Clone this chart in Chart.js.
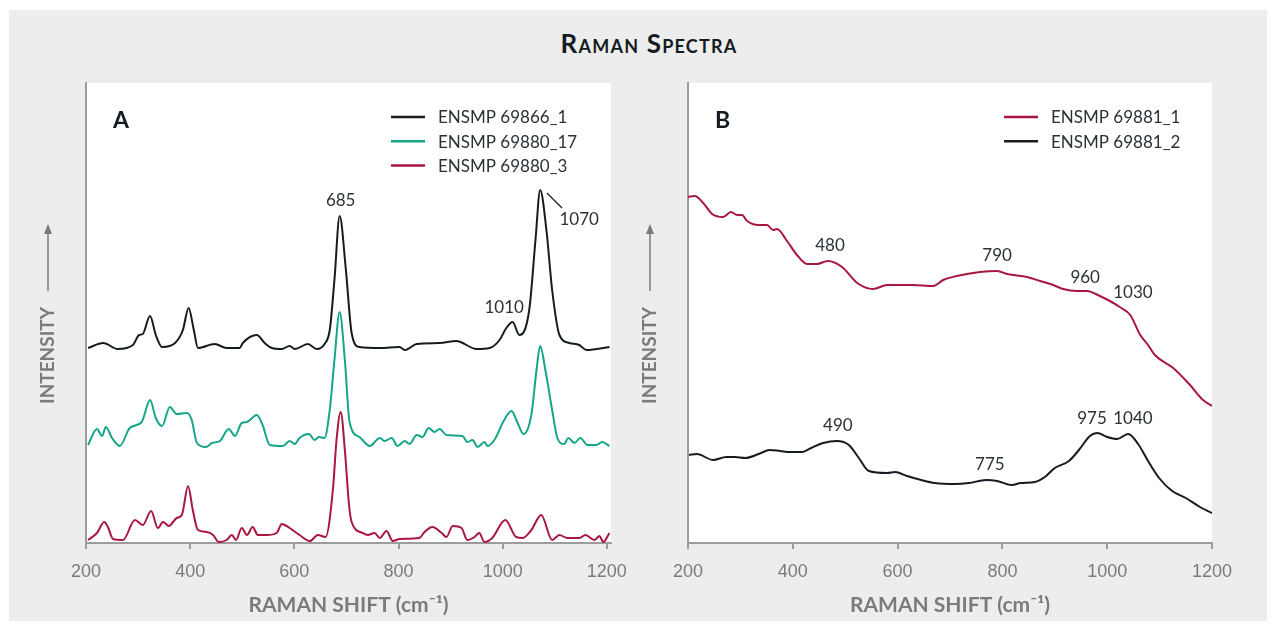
<!DOCTYPE html>
<html>
<head>
<meta charset="utf-8">
<script src="https://cdn.jsdelivr.net/npm/chart.js@4.4.1/dist/chart.umd.min.js"></script>
<style>
  body { margin: 0; background: #fff; width: 1276px; height: 631px; position: relative; overflow: hidden; }
  #panel { position: absolute; left: 9px; top: 10px; width: 1258px; height: 611px; background: #ededed; }
  #title { position: absolute; left: 0; width: 1298px; top: 27px; text-align: center;
           font-family: Lato, sans-serif; font-weight: bold; font-size: 26px; font-variant: small-caps;
           color: #141c21; letter-spacing: 1.2px; }
  canvas { position: absolute; top: 0; }
</style>
</head>
<body>
<div id="panel"></div>
<div id="title">Raman Spectra</div>
<canvas id="chartA" width="640" height="631" style="left:0"></canvas>
<canvas id="chartB" width="636" height="631" style="left:640px"></canvas>
<script>
//Panel A data (Raman shift, intensity in arbitrary units)
const shiftA1 = [204,233,261,290,302,309,323,334,346,371,386,397,407,415,447,470,495,501,528,543,557,576,591,601,626,643,658,668,677,687,699,710,725,764,802,812,835,879,911,950,975,994,1007,1019,1032,1051,1063,1072,1084,1095,1109,1128,1147,1161,1205];
const intA1   = [195,200,194,198,208,209,227,208,196,200,213,235,213,195,199,195,195,200,208,200,195,194,197,194,199,194,199,213,263,327,273,210,196,195,196,193,199,200,202,194,195,203,215,221,208,233,303,353,313,253,208,200,198,193,196];

const shiftA2 = [204,221,231,238,250,265,284,307,323,334,346,361,374,394,403,413,430,442,457,474,486,499,509,528,539,553,578,591,601,610,628,639,647,658,668,677,687,697,706,725,745,764,773,787,798,812,821,835,846,858,869,879,892,923,932,942,952,965,971,984,1003,1017,1028,1040,1055,1065,1072,1082,1095,1105,1118,1126,1138,1149,1163,1180,1191,1205];
const intA2   = [98,114,107,116,105,97,115,121,143,125,117,136,129,130,123,100,96,100,102,114,107,120,121,128,118,98,97,102,99,105,109,103,106,105,133,183,231,183,121,106,97,105,102,105,97,102,99,108,106,115,111,114,108,107,101,103,96,101,97,103,123,132,121,109,128,173,197,173,133,105,99,105,100,105,98,98,101,97];

const shiftA3 = [204,221,235,242,252,271,294,309,325,338,348,359,374,384,396,405,415,432,444,455,470,480,488,499,509,520,530,547,566,576,591,610,630,645,660,674,681,689,697,705,710,731,741,754,764,777,789,802,840,850,865,883,892,904,921,932,946,955,965,980,1005,1026,1038,1055,1074,1095,1109,1124,1147,1159,1176,1186,1193,1205];
const intA3   = [3,10,21,16,4,3,23,18,32,15,21,17,25,28,57,33,13,11,8,1,3,8,3,15,8,16,8,8,10,19,15,8,2,8,6,53,103,131,93,38,21,10,8,10,5,12,2,4,5,11,16,10,6,17,15,3,6,10,1,5,23,6,5,13,28,3,8,5,5,8,3,7,1,10];

//Panel B data
const shiftB1 = [200,213,229,246,267,282,294,303,313,334,351,362,370,389,408,427,446,467,494,523,553,580,605,629,668,687,713,757,790,809,847,872,897,916,942,961,986,1005,1024,1044,1063,1078,1091,1126,1158,1183,1200];
const intB1   = [346,347,340,329,326,331,328,328,322,318,318,313,314,302,288,279,279,282,276,260,254,258,258,258,257,263,267,271,272,269,266,262,258,254,252,252,247,242,236,228,208,198,188,175,158,143,137];

const shiftB2 = [202,217,248,273,290,309,335,356,376,395,418,435,458,484,507,526,545,580,595,618,645,671,710,736,769,790,818,835,862,881,900,927,946,967,981,1000,1019,1040,1059,1078,1099,1124,1150,1177,1200];
const intB2   = [88,89,83,86,86,85,89,93,92,91,91,95,100,102,98,85,72,70,71,67,63,60,59,60,63,62,58,60,61,66,75,82,93,107,110,106,104,109,99,82,65,52,45,36,30];

//Legends
const seriesA = ['ENSMP 69866_1', 'ENSMP 69880_17', 'ENSMP 69880_3'];
const seriesB = ['ENSMP 69881_1', 'ENSMP 69881_2'];

//Peak labels: text, shift, intensity where the text sits
const peakTextA  = ['685', '1010', '1070'];
const peakShiftA = [689, 1003, 1147];
const peakIntA   = [342, 235, 323];

const peakTextB  = ['480', '790', '960', '1030', '490', '775', '975', '1040'];
const peakShiftB = [471, 790, 958, 1049, 486, 776, 971, 1049];
const peakIntB   = [297, 287, 265, 250, 117, 78, 124, 124];

const xTicks = [200, 400, 600, 800, 1000, 1200];

const BLACK = '#141c21';
const GREEN = '#16a589';
const RED = '#a8173f';
const GREY = '#9c9c9c';

function pts(xs, ys) {
  return xs.map(function (x, i) { return { x: x, y: ys[i] }; });
}

function line(label, xs, ys, colour) {
  return {
    label: label,
    data: pts(xs, ys),
    borderColor: colour,
    borderWidth: 2,
    pointRadius: 0,
    fill: false,
    cubicInterpolationMode: 'monotone'
  };
}

//draws the white plot area, legend, letter, peak labels and the intensity title
function decorPlugin(letter, texts, shifts, ints, legendX, leader) {
  return {
    id: 'decor' + letter,
    beforeDraw: function (chart) {
      const a = chart.chartArea, ctx = chart.ctx;
      ctx.save();
      ctx.fillStyle = '#fff';
      ctx.fillRect(a.left, a.top, a.right - a.left, a.bottom - a.top);
      ctx.restore();
    },
    afterDatasetsDraw: function (chart) {
      const a = chart.chartArea, ctx = chart.ctx;
      const xs = chart.scales.x, ys = chart.scales.y;
      ctx.save();
      // panel letter
      ctx.fillStyle = BLACK;
      ctx.font = 'bold 23px Lato';
      ctx.textBaseline = 'middle';
      ctx.textAlign = 'left';
      ctx.fillText(letter, a.left + 27, 121);

      // legend
      ctx.font = '17px Lato';
      chart.data.datasets.forEach(function (ds, i) {
        const y = 117 + i * 24.3;
        ctx.strokeStyle = ds.borderColor;
        ctx.lineWidth = 2.5;
        ctx.beginPath();
        ctx.moveTo(legendX, y);
        ctx.lineTo(legendX + 34, y);
        ctx.stroke();
        ctx.fillStyle = '#2b3236';
        ctx.fillText(ds.label, legendX + 47, y + 1);
      });

      // peak labels
      ctx.textAlign = 'center';
      ctx.fillStyle = '#2b3236';
      ctx.font = '17px Lato';
      texts.forEach(function (t, i) {
        ctx.fillText(t, xs.getPixelForValue(shifts[i]), ys.getPixelForValue(ints[i]));
      });
      if (leader) {
        ctx.strokeStyle = BLACK;
        ctx.lineWidth = 1.2;
        ctx.beginPath();
        ctx.moveTo(xs.getPixelForValue(leader[0]), ys.getPixelForValue(leader[1]));
        ctx.lineTo(xs.getPixelForValue(leader[2]), ys.getPixelForValue(leader[3]));
        ctx.stroke();
      }

      // intensity title with arrow
      const tx = a.left - 38;
      ctx.translate(tx, 0);
      ctx.rotate(-Math.PI / 2);
      ctx.fillStyle = '#7b7b7b';
      ctx.font = 'bold 19px Lato';
      ctx.textAlign = 'left';
      ctx.fillText('INTENSITY', -404, 0);
      ctx.restore();

      ctx.save();
      ctx.strokeStyle = '#7b7b7b';
      ctx.fillStyle = '#7b7b7b';
      ctx.lineWidth = 1.5;
      ctx.beginPath();
      ctx.moveTo(tx, 291);
      ctx.lineTo(tx, 232);
      ctx.stroke();
      ctx.beginPath();
      ctx.moveTo(tx, 224);
      ctx.lineTo(tx - 4, 234);
      ctx.lineTo(tx + 4, 234);
      ctx.closePath();
      ctx.fill();
      ctx.restore();
    }
  };
}

function makeOptions(xMax, padLeft, padRight) {
  return {
    responsive: false,
    animation: false,
    devicePixelRatio: 1,
    layout: { padding: { left: padLeft, top: 83, right: padRight, bottom: 0 } },
    plugins: { legend: { display: false }, tooltip: { enabled: false } },
    scales: {
      x: {
        type: 'linear',
        min: 200,
        max: xMax,
        afterBuildTicks: function (scale) {
          scale.ticks = xTicks.map(function (v) { return { value: v }; });
        },
        afterFit: function (scale) { scale.height = 88; },
        ticks: {
          color: '#7b7b7b',
          font: { family: 'Liberation Sans', size: 18 },
          padding: 12,
          maxRotation: 0,
          callback: function (v) { return String(v); }
        },
        grid: { drawOnChartArea: false, drawTicks: true, tickLength: 6, color: GREY, lineWidth: 2 },
        border: { color: GREY, width: 2 },
        title: {
          display: true,
          text: 'RAMAN SHIFT (cm⁻¹)',
          color: '#7b7b7b',
          font: { family: 'Lato', weight: 'bold', size: 21 },
          padding: { top: 0, bottom: 13 }
        }
      },
      y: {
        min: 0,
        max: 460,
        afterFit: function (scale) { scale.width = 0; },
        ticks: { display: false },
        grid: { display: false },
        border: { color: GREY, width: 2 }
      }
    }
  };
}

//Create chart A
new Chart(document.getElementById('chartA'), {
  type: 'line',
  data: {
    datasets: [
      line(seriesA[0], shiftA1, intA1, BLACK),
      line(seriesA[1], shiftA2, intA2, GREEN),
      line(seriesA[2], shiftA3, intA3, RED)
    ]
  },
  options: makeOptions(1208, 86, 29),
  plugins: [decorPlugin('A', peakTextA, peakShiftA, peakIntA, 391, [1085, 350, 1114, 335])]
});

//Create chart B
new Chart(document.getElementById('chartB'), {
  type: 'line',
  data: {
    datasets: [
      line(seriesB[0], shiftB1, intB1, RED),
      line(seriesB[1], shiftB2, intB2, BLACK)
    ]
  },
  options: makeOptions(1200, 48, 64),
  plugins: [decorPlugin('B', peakTextB, peakShiftB, peakIntB, 364, null)]
});
</script>
</body>
</html>
